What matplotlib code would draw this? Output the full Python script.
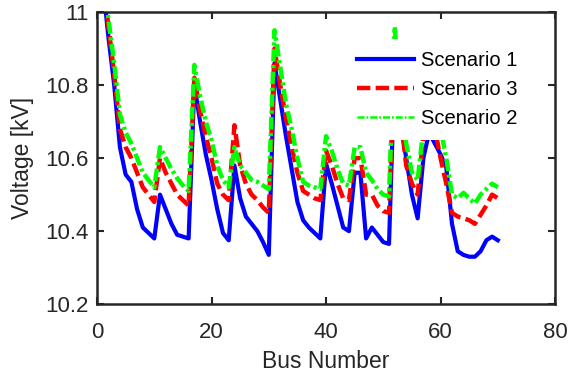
import numpy as np
import matplotlib
matplotlib.use('Agg')
import matplotlib.pyplot as plt

plt.rcParams['font.family'] = ['Liberation Sans', 'DejaVu Sans']

bus = np.arange(1, 71)

# Scenario 1 (blue, solid)
s1 = [11.08, 10.93, 10.80, 10.63, 10.555, 10.535, 10.46, 10.41, 10.395, 10.38,
      10.50, 10.46, 10.42, 10.39, 10.385, 10.38, 10.80, 10.70, 10.61, 10.54,
      10.46, 10.395, 10.375, 10.58, 10.49, 10.44, 10.42, 10.40, 10.37, 10.335,
      10.86, 10.76, 10.66, 10.57, 10.48, 10.43, 10.41, 10.395, 10.38, 10.585,
      10.53, 10.47, 10.41, 10.40, 10.56, 10.56, 10.38, 10.41, 10.39, 10.37,
      10.365, 10.86, 10.70, 10.60, 10.50, 10.435, 10.60, 10.67, 10.64, 10.61,
      10.575, 10.42, 10.345, 10.335, 10.33, 10.33, 10.345, 10.375, 10.385, 10.375]

# Scenario 3 (red, dashed)
s3 = [11.09, 10.96, 10.83, 10.68, 10.63, 10.60, 10.56, 10.52, 10.50, 10.48,
      10.60, 10.56, 10.53, 10.50, 10.485, 10.47, 10.82, 10.73, 10.66, 10.60,
      10.53, 10.50, 10.485, 10.69, 10.58, 10.53, 10.50, 10.485, 10.465, 10.45,
      10.90, 10.80, 10.71, 10.63, 10.56, 10.51, 10.50, 10.49, 10.485, 10.62,
      10.58, 10.53, 10.49, 10.485, 10.60, 10.60, 10.50, 10.50, 10.47, 10.455,
      10.45, 10.90, 10.72, 10.58, 10.53, 10.50, 10.66, 10.70, 10.68, 10.60,
      10.53, 10.45, 10.44, 10.435, 10.43, 10.42, 10.445, 10.47, 10.50, 10.49]

# Scenario 2 (green, dash-dot)
s2 = [11.10, 10.98, 10.86, 10.72, 10.67, 10.64, 10.60, 10.56, 10.54, 10.52,
      10.63, 10.60, 10.57, 10.545, 10.525, 10.51, 10.855, 10.77, 10.70, 10.65,
      10.58, 10.54, 10.52, 10.63, 10.58, 10.56, 10.54, 10.535, 10.525, 10.515,
      10.95, 10.85, 10.75, 10.68, 10.60, 10.535, 10.525, 10.52, 10.515, 10.66,
      10.62, 10.57, 10.53, 10.525, 10.63, 10.63, 10.56, 10.54, 10.515, 10.50,
      10.495, 10.96, 10.75, 10.64, 10.56, 10.54, 10.68, 10.72, 10.70, 10.68,
      10.60, 10.50, 10.49, 10.505, 10.49, 10.475, 10.50, 10.515, 10.53, 10.52]

fig = plt.figure(figsize=(5.69, 3.76), dpi=100)
ax = fig.add_axes([0.1705, 0.191, 0.805, 0.777])

ax.plot(bus, s1, color='#0000ff', lw=3.0, ls='-', label='Scenario 1')
ax.plot(bus, s3, color='#ff0000', lw=3.2, ls=(0, (3.0, 1.2)), label='Scenario 3')
ax.plot(bus, s2, color='#00ff00', lw=3.2, ls=(0, (2.8, 0.8, 0.7, 0.8)), label='Scenario 2')

ax.set_xlim(0, 80)
ax.set_ylim(10.2, 11)
ax.set_xticks([0, 20, 40, 60, 80])
ax.set_yticks([10.2, 10.4, 10.6, 10.8, 11])
ax.set_yticklabels(['10.2', '10.4', '10.6', '10.8', '11'])
ax.tick_params(direction='in', top=True, right=True, labelsize=16,
               length=5, width=1.5, colors='#262626')
ax.tick_params(axis='x', pad=13)
ax.tick_params(axis='y', pad=6)
for sp in ax.spines.values():
    sp.set_linewidth(1.8)
    sp.set_color('#262626')

ax.set_xlabel('Bus Number', fontsize=16.5, color='#262626', labelpad=5)
ax.set_ylabel('Voltage [kV]', fontsize=16.5, color='#262626', labelpad=8)

leg = ax.legend(loc='upper right', bbox_to_anchor=(0.945, 0.908), fontsize=14.5,
                frameon=True, handlelength=2.85, handletextpad=0.35,
                labelspacing=0.5, borderpad=0.6, borderaxespad=0,
                fancybox=False)
leg.get_frame().set_edgecolor('none')
leg.get_frame().set_facecolor('white')
leg.get_frame().set_alpha(1)
leg.get_lines()[2].set_linewidth(1.8)

fig.savefig('out.png', dpi=100)
